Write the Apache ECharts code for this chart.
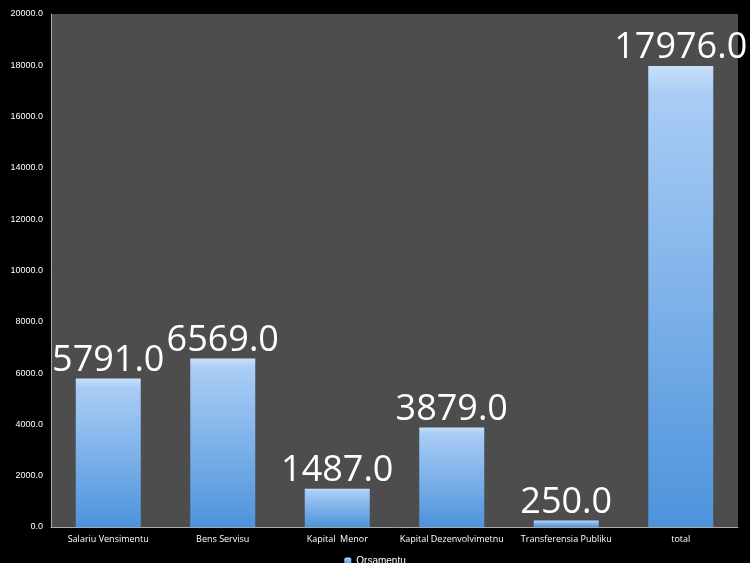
<!DOCTYPE html><html><head><meta charset="utf-8"><script src="https://cdn.jsdelivr.net/npm/echarts@6/dist/echarts.min.js"></script>
<style>html,body{margin:0;background:#000}#c{width:750px;height:563px}</style></head><body><div id="c"></div><script>
const categories=["Salariu Vensimentu","Bens Servisu","Kapital  Menor","Kapital Dezenvolvimetnu","Transferensia Publiku","total"];
const values=[5791,6569,1487,3879,250,17976];
const seriesName="Orsamentu";
const c=echarts.init(document.getElementById('c'));
c.setOption({backgroundColor:'#000',animation:false,
grid:{left:51,right:12,top:14,bottom:36,backgroundColor:'#4d4d4d',show:true,borderWidth:0},
legend:{bottom:-8,itemWidth:7,itemHeight:7,textStyle:{color:'#fff',fontSize:10},data:[seriesName]},
xAxis:{type:'category',data:categories,axisTick:{show:false},axisLine:{lineStyle:{color:'#aaa'}},axisLabel:{color:'#fff',fontSize:9,fontFamily:'Open Sans',interval:0}},
yAxis:{type:'value',min:0,max:20000,interval:2000,splitLine:{show:false},axisLine:{show:true,lineStyle:{color:'#aaa'}},axisLabel:{color:'#fff',fontSize:9,formatter:v=>v.toFixed(1)}},
series:[{name:seriesName,type:'bar',data:values,barWidth:65,
itemStyle:{color:new echarts.graphic.LinearGradient(0,0,0,1,[{offset:0,color:'#c8e0fb'},{offset:0.06,color:'#a9cdf5'},{offset:1,color:'#4d93dc'}])},
label:{show:true,position:'top',color:'#fff',fontSize:36,fontFamily:'Open Sans',distance:0,formatter:p=>p.value.toFixed(1)}}]});
</script></body></html>
